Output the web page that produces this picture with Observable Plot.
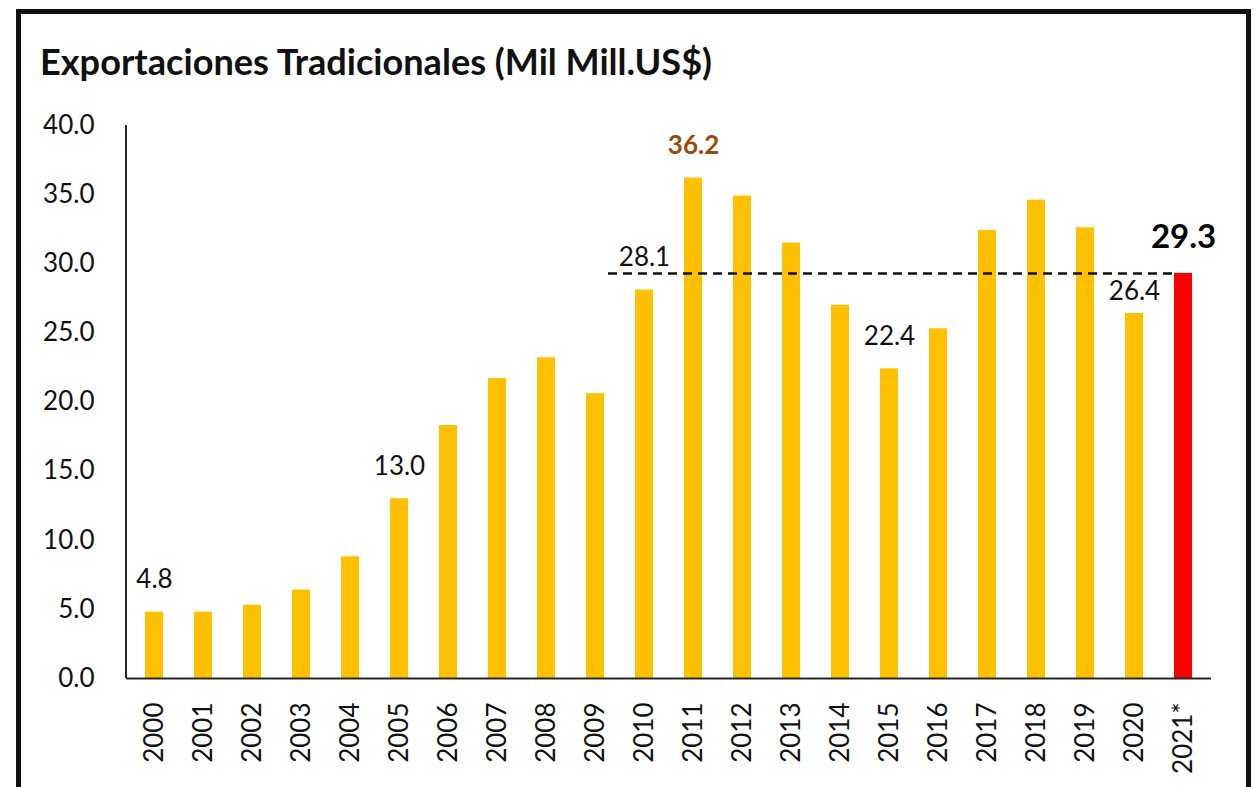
<!DOCTYPE html>
<html><head><meta charset="utf-8">
<script src="https://cdn.jsdelivr.net/npm/d3@7"></script>
<script src="https://cdn.jsdelivr.net/npm/@observablehq/plot@0.6"></script>
<style>
html,body{margin:0;padding:0;background:#fff;overflow:hidden;width:1259px;height:787px;}
#frame{position:absolute;left:16px;top:9px;width:1235px;height:900px;border:5px solid #111;box-sizing:border-box;pointer-events:none;}
#title{display:block;}
#chart svg{display:block;}
</style></head><body>
<svg id="title" width="1259" height="100"><text x="40" y="75" font-family="Lato" font-weight="700" font-size="37" fill="#111" textLength="672" lengthAdjust="spacingAndGlyphs">Exportaciones Tradicionales (Mil Mill.US$)</text></svg>
<div id="chart"></div>
<div id="frame"></div>
<script>
const years = ["2000","2001","2002","2003","2004","2005","2006","2007","2008","2009","2010","2011","2012","2013","2014","2015","2016","2017","2018","2019","2020","2021*"];
const values = [4.8,4.8,5.3,6.4,8.8,13.0,18.3,21.7,23.2,20.6,28.1,36.2,34.9,31.5,27.0,22.4,25.3,32.4,34.6,32.6,26.4,29.3];
const yTicks = [0,5,10,15,20,25,30,35,40];
const labelYears = ["2000","2005","2010","2015"];
const lowLabelYears = ["2020"];
const peakYear = "2011";
const currentYear = "2021*";
const referenceValue = 29.3;
const referenceFrom = "2009";
const referenceTo = "2021*";

const data = years.map((year, i) => ({year, value: values[i]}));
const fmt = d3.format(".1f");
const pick = (list) => data.filter(d => list.includes(d.year));

const chart = Plot.plot({
  width: 1259,
  height: 687,
  marginLeft: 126,
  marginRight: 48,
  marginTop: 25,
  marginBottom: 109,
  style: {fontFamily: "Lato", color: "#111", background: "transparent"},
  x: {domain: years, paddingInner: 0.64, paddingOuter: 0.32, label: null},
  y: {domain: [0, 40], label: null},
  color: {type: "identity"},
  marks: [
    Plot.barY(data, {x: "year", y: "value", fill: d => d.year === currentYear ? "#FF0000" : "#FFC000"}),
    Plot.ruleY([0], {stroke: "#262626", strokeWidth: 2}),
    Plot.ruleY([{y: referenceValue, from: referenceFrom, to: referenceTo}], {y: "y", x1: "from", x2: "to", insetLeft: 22, insetRight: 19, stroke: "#111", strokeWidth: 2.5, strokeDasharray: "9,6"}),
    Plot.axisY({ticks: yTicks, tickFormat: fmt, tickSize: 0, tickPadding: 32, fontSize: 26, label: null}),
    Plot.axisX({tickSize: 0, tickPadding: 24, tickRotate: -90, fontSize: 26, label: null}),
    Plot.text(pick(labelYears), {x: "year", y: "value", text: d => fmt(d.value), dy: -32, fontSize: 26, fill: "#111"}),
    Plot.text(pick(lowLabelYears), {x: "year", y: "value", text: d => fmt(d.value), dy: -22, fontSize: 26, fill: "#111"}),
    Plot.text(pick([peakYear]), {x: "year", y: "value", text: d => fmt(d.value), dy: -32, fontSize: 26, fontWeight: 700, fill: "#9a4a0c"}),
    Plot.text(pick([currentYear]), {x: "year", y: "value", text: d => fmt(d.value), dy: -36, fontSize: 33, fontWeight: 700, fill: "#000"})
  ]
});
document.getElementById("chart").appendChild(chart);

// vertical y-axis line, positioned through the plot's own scales
const xs = chart.scale("x"), ys = chart.scale("y");
d3.select(chart).append("line")
  .attr("x1", xs.range[0]).attr("x2", xs.range[0])
  .attr("y1", ys.apply(40)).attr("y2", ys.apply(0))
  .attr("stroke", "#262626").attr("stroke-width", 2);
</script>
</body></html>
